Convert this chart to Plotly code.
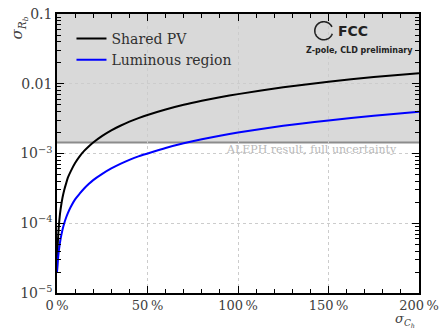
import numpy as np
import plotly.graph_objects as go

# sigma(C_h) in percent
sigma_ch = [0, 0.5, 1, 1.5, 2, 3, 4, 5, 6, 7.5, 10, 12.5, 15, 17.5, 20, 25, 30,
            35, 40, 45, 50, 60, 70, 80, 90, 100, 125, 150, 175, 200]

# sigma(R_b) for the two beam-spot treatments
shared_pv = [2.0e-5, 5.5e-5, 9.0e-5, 1.25e-4, 1.6e-4, 2.3e-4, 3.0e-4, 3.7e-4,
             4.5e-4, 5.5e-4, 7.3e-4, 9.1e-4, 1.09e-3, 1.26e-3, 1.44e-3, 1.79e-3,
             2.15e-3, 2.5e-3, 2.86e-3, 3.21e-3, 3.57e-3, 4.28e-3, 5.0e-3, 5.7e-3,
             6.4e-3, 7.1e-3, 8.9e-3, 1.07e-2, 1.245e-2, 1.42e-2]
luminous_region = [2.0e-5, 3.0e-5, 4.0e-5, 5.0e-5, 6.0e-5, 8.0e-5, 1.0e-4, 1.2e-4,
                   1.4e-4, 1.7e-4, 2.2e-4, 2.65e-4, 3.15e-4, 3.65e-4, 4.15e-4,
                   5.1e-4, 6.1e-4, 7.1e-4, 8.1e-4, 9.1e-4, 1.0e-3, 1.2e-3, 1.4e-3,
                   1.6e-3, 1.8e-3, 2.0e-3, 2.5e-3, 2.98e-3, 3.47e-3, 3.96e-3]

aleph_sigma = 1.436e-3

x_ticks = [0, 50, 100, 150, 200]
x_ticktext = ["0\u2009%", "50\u2009%", "100\u2009%", "150\u2009%", "200\u2009%"]
y_ticks = [1e-5, 1e-4, 1e-3, 1e-2, 1e-1]
y_ticktext = ["10<sup>\u22125</sup>", "10<sup>\u22124</sup>", "10<sup>\u22123</sup>",
              "0.01", "0.1"]
y_minor = [m * 10.0 ** e for e in range(-5, -1) for m in range(2, 10)]

SERIF = "DejaVu Serif"
TXT = "#404040"

fig = go.Figure()
fig.add_trace(go.Scatter(x=sigma_ch, y=shared_pv, mode="lines", name="Shared PV",
                         line=dict(color="black", width=2, shape="spline",
                                   smoothing=0.6)))
fig.add_trace(go.Scatter(x=sigma_ch, y=luminous_region, mode="lines",
                         name="Luminous region",
                         line=dict(color="#0000ff", width=2, shape="spline",
                                   smoothing=0.6)))

# excluded band above the ALEPH uncertainty
fig.add_shape(type="rect", xref="paper", yref="y", x0=0, x1=1,
              y0=aleph_sigma, y1=0.1, fillcolor="#d9d9d9", line_width=0,
              layer="below")
fig.add_shape(type="line", xref="paper", yref="y", x0=0, x1=1,
              y0=aleph_sigma, y1=aleph_sigma,
              line=dict(color="#8c8c8c", width=2), layer="below")
fig.add_annotation(xref="paper", yref="y", x=0.945, y=np.log10(aleph_sigma),
                   text="ALEPH result, full uncertainty", showarrow=False,
                   xanchor="right", yanchor="top", yshift=2,
                   font=dict(family=SERIF, size=11, color="#b8b8b8"))

# FCC logo
cx, cy = 0.737, 0.940
rx, ry = 9 / 362.6, 9 / 278.7
ang = np.radians(np.linspace(25, 340, 60))
path = "M " + " L ".join(f"{cx + rx*np.cos(a):.4f},{cy + ry*np.sin(a):.4f}" for a in ang)
fig.add_shape(type="path", xref="paper", yref="paper", path=path,
              line=dict(color="#222222", width=1.6))
fig.add_annotation(xref="paper", yref="paper", x=0.770, y=0.940, text="<b>FCC</b>",
                   showarrow=False, xanchor="left", yanchor="middle",
                   font=dict(family="DejaVu Sans", size=14, color="#222222"))
fig.add_annotation(xref="paper", yref="paper", x=0.835, y=0.870,
                   text="<b>Z-pole, CLD preliminary</b>", showarrow=False,
                   xanchor="center", yanchor="middle",
                   font=dict(family="DejaVu Sans", size=8, color="#222222"))

# axis titles
fig.add_annotation(xref="paper", yref="paper", x=-0.105, y=1.0,
                   text="<i>σ</i><sub><i>R<sub>b</sub></i></sub>", showarrow=False,
                   textangle=-90, xanchor="center", yanchor="top",
                   font=dict(family=SERIF, size=15, color=TXT))
fig.add_annotation(xref="paper", yref="paper", x=0.995, y=-0.098,
                   text="<i>σ</i><sub><i>C<sub>h</sub></i></sub>", showarrow=False,
                   xanchor="right", yanchor="middle",
                   font=dict(family=SERIF, size=13, color=TXT))

fig.update_layout(
    width=439, height=329,
    margin=dict(l=57, r=20, t=14, b=36, autoexpand=False),
    paper_bgcolor="white", plot_bgcolor="white",
    font=dict(family=SERIF, size=14, color=TXT),
    showlegend=True,
    legend=dict(x=0.04, y=0.968, xanchor="left", yanchor="top",
                bgcolor="rgba(0,0,0,0)", borderwidth=0,
                font=dict(family=SERIF, size=14, color="#303030"),
                tracegroupgap=0),
)
fig.update_xaxes(range=[0, 200], tickvals=x_ticks, ticktext=x_ticktext,
                 automargin=False, ticklabeloverflow="allow",
                 tickfont=dict(size=13),
                 showline=True, linecolor="black", linewidth=1.5, mirror="ticks",
                 ticks="inside", ticklen=7, tickcolor="black", tickwidth=1.2,
                 showgrid=True, gridcolor="#cccccc", griddash="dot", gridwidth=1,
                 zeroline=False,
                 minor=dict(tickvals=list(range(10, 200, 10)), ticks="inside",
                            ticklen=4, tickcolor="black", tickwidth=1,
                            showgrid=False))
fig.update_yaxes(type="log", range=[-5, -1], tickvals=y_ticks, ticktext=y_ticktext,
                 automargin=False, ticklabeloverflow="allow",
                 showline=True, linecolor="black", linewidth=1.5, mirror="ticks",
                 ticks="inside", ticklen=7, tickcolor="black", tickwidth=1.2,
                 showgrid=True, gridcolor="#cccccc", griddash="dot", gridwidth=1,
                 zeroline=False,
                 minor=dict(tickvals=y_minor, ticks="inside", ticklen=4,
                            tickcolor="black", tickwidth=1, showgrid=False))

fig.write_html("out.html")
